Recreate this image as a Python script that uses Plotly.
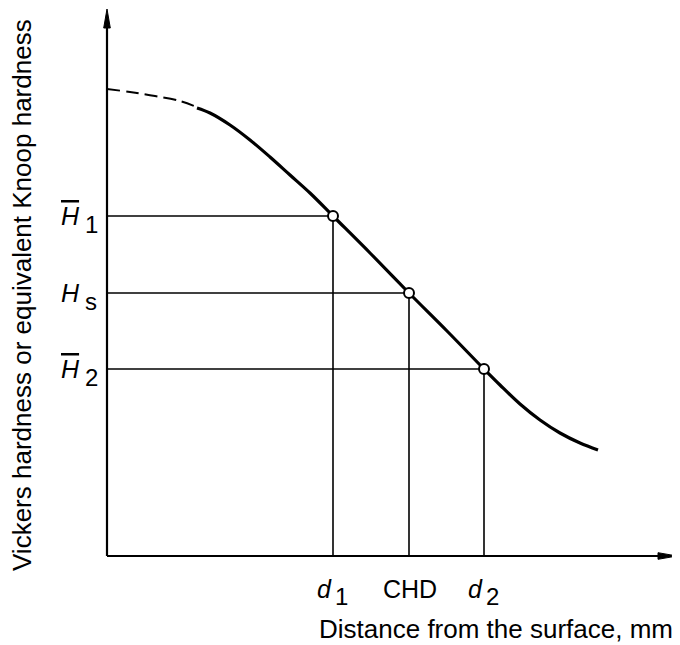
import plotly.graph_objects as go

# ---- data (arbitrary units) ----
dashed_x = [0, 23, 48, 73, 92]
dashed_y = [467, 464, 460, 455, 448]
curve_x = [90, 103, 123, 143, 163, 183, 203, 227, 264, 302, 340, 376, 393, 413, 433, 453, 473, 491]
curve_y = [448, 443, 431, 416, 399, 381, 363, 339, 302, 263, 225, 188, 171, 152, 136, 123, 113, 106]
depths = [226, 302, 377]          # d1, CHD, d2
hardness = [340, 263, 187]        # H1, Hs, H2
h_main = ["H", "H", "H"]
h_sub = ["1", "s", "2"]
h_bar = [True, False, True]
d_main = ["d", "CHD", "d"]
d_sub = ["1", "", "2"]
x_title = "Distance from the surface, mm"
y_title = "Vickers hardness or equivalent Knoop hardness"

X_MAX, Y_MAX = 570, 547
HEAD_L, HEAD_W = 19, 3.3
FONT = "Liberation Sans, Arial, sans-serif"
FS = 25
TFS = 26

fig = go.Figure()

# guide lines
hx, hy, vx, vy = [], [], [], []
for d, h in zip(depths, hardness):
    hx += [0, d, None]; hy += [h, h, None]
    vx += [d, d, None]; vy += [h, 0, None]
fig.add_trace(go.Scatter(x=hx, y=hy, mode="lines", line=dict(color="black", width=1.6), hoverinfo="skip"))
fig.add_trace(go.Scatter(x=vx, y=vy, mode="lines", line=dict(color="black", width=1.6), hoverinfo="skip"))

# axes
fig.add_trace(go.Scatter(x=[0, 0, None, 0, X_MAX - HEAD_L + 2], y=[Y_MAX - HEAD_L + 2, 0, None, 0, 0],
                         mode="lines", line=dict(color="black", width=2.2), hoverinfo="skip"))
fig.add_trace(go.Scatter(x=[0, -HEAD_W, HEAD_W, 0], y=[Y_MAX, Y_MAX - HEAD_L, Y_MAX - HEAD_L, Y_MAX],
                         mode="lines", fill="toself", fillcolor="black",
                         line=dict(color="black", width=1), hoverinfo="skip"))
fig.add_trace(go.Scatter(x=[X_MAX, X_MAX - HEAD_L, X_MAX - HEAD_L, X_MAX], y=[0, HEAD_W, -HEAD_W, 0],
                         mode="lines", fill="toself", fillcolor="black",
                         line=dict(color="black", width=1), hoverinfo="skip"))

# dashed extrapolated part
fig.add_trace(go.Scatter(x=dashed_x, y=dashed_y, mode="lines",
                         line=dict(color="black", width=2, dash="13px,6px", shape="spline", smoothing=1.0),
                         hoverinfo="skip"))
# measured curve
fig.add_trace(go.Scatter(x=curve_x, y=curve_y, mode="lines",
                         line=dict(color="black", width=3.2, shape="spline", smoothing=1.0), hoverinfo="skip"))
# points
fig.add_trace(go.Scatter(x=depths, y=hardness, mode="markers",
                         marker=dict(symbol="circle", size=10, color="white",
                                     line=dict(color="black", width=2)), hoverinfo="skip"))

ann = []
# hardness labels
for h, m, s, bar in zip(hardness, h_main, h_sub, h_bar):
    ann.append(dict(x=-37, y=h, xref="x", yref="y", text=m, showarrow=False,
                    xanchor="center", yanchor="middle",
                    font=dict(family=FONT, size=FS, color="black", style="italic",
                              lineposition="over" if bar else "none")))
    ann.append(dict(x=-16, y=h - 8, xref="x", yref="y", text=s, showarrow=False,
                    xanchor="center", yanchor="middle",
                    font=dict(family=FONT, size=FS - 1, color="black")))

# depth labels
for d, m, s in zip(depths, d_main, d_sub):
    if s:
        ann.append(dict(x=d - 9, y=-33, xref="x", yref="y", text=m, showarrow=False,
                        xanchor="center", yanchor="middle",
                        font=dict(family=FONT, size=FS, color="black", style="italic")))
        ann.append(dict(x=d + 8, y=-40, xref="x", yref="y", text=s, showarrow=False,
                        xanchor="center", yanchor="middle",
                        font=dict(family=FONT, size=FS - 1, color="black")))
    else:
        ann.append(dict(x=d + 1, y=-33, xref="x", yref="y", text=m, showarrow=False,
                        xanchor="center", yanchor="middle",
                        font=dict(family=FONT, size=FS, color="black")))

# axis titles
ann.append(dict(x=568, y=-73, xref="x", yref="y", text=x_title, showarrow=False,
                xanchor="right", yanchor="middle", font=dict(family=FONT, size=TFS, color="black")))
ann.append(dict(x=-85, y=261, xref="x", yref="y", text=y_title, showarrow=False, textangle=-90,
                xanchor="center", yanchor="middle", font=dict(family=FONT, size=TFS, color="black")))

# the page body has an 8px offset, so the plot area covers the whole figure
fig.update_layout(
    width=680, height=645,
    margin=dict(l=0, r=0, t=0, b=0, pad=0),
    paper_bgcolor="white", plot_bgcolor="white",
    showlegend=False,
    xaxis=dict(range=[-99, 581], visible=False, fixedrange=True),
    yaxis=dict(range=[-97, 548], visible=False, fixedrange=True),
    annotations=ann,
)
fig.write_html("out.html")
